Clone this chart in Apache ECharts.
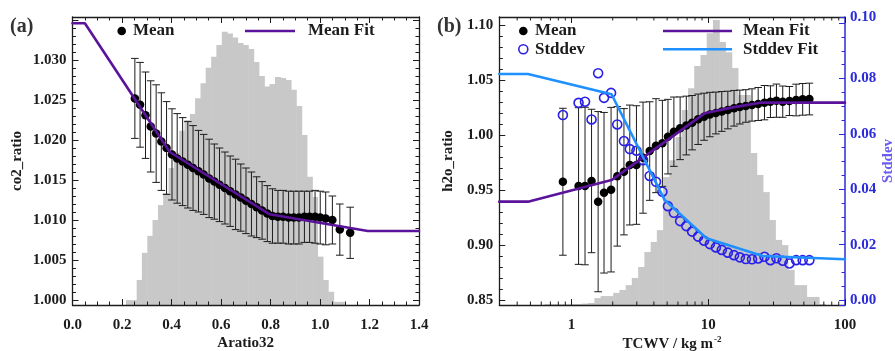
<!DOCTYPE html>
<html>
<head>
<meta charset="utf-8">
<script src="https://cdn.jsdelivr.net/npm/echarts@6/dist/echarts.min.js"></script>
<style>
  html, body { margin: 0; padding: 0; background: #fff; }
  #chart { width: 895px; height: 351px; }
</style>
</head>
<body>
<div id="chart"></div>
<script>
// ---------- panel (a): co2_ratio against Aratio32 ----------
const co2X = [0.252,0.273,0.295,0.316,0.338,0.359,0.380,0.402,0.423,0.445,0.466,0.487,0.509,0.530,0.552,0.573,0.594,0.616,0.637,0.659,0.680,0.701,0.723,0.744,0.766,0.787,0.808,0.830,0.851,0.873,0.894,0.915,0.937,0.958,0.980,1.001,1.023,1.050,1.080,1.122];
const co2Mean = [1.0252,1.0244,1.0231,1.0217,1.0208,1.0198,1.0190,1.0182,1.0177,1.0173,1.0169,1.0165,1.0161,1.0157,1.0152,1.0148,1.0144,1.0140,1.0136,1.0132,1.0128,1.0124,1.0120,1.0116,1.0112,1.0108,1.0105,1.0104,1.0104,1.0103,1.0103,1.0103,1.0104,1.0104,1.0104,1.0103,1.0102,1.0100,1.0088,1.0084];
const co2Std = [0.0050,0.0053,0.0054,0.0057,0.0061,0.0061,0.0058,0.0057,0.0056,0.0055,0.0054,0.0053,0.0051,0.0050,0.0049,0.0047,0.0046,0.0045,0.0044,0.0044,0.0042,0.0041,0.0040,0.0038,0.0036,0.0035,0.0034,0.0033,0.0033,0.0033,0.0033,0.0033,0.0032,0.0032,0.0033,0.0033,0.0033,0.0030,0.0032,0.0032];
const co2FitX = [0.0, 0.05, 0.393, 0.797, 1.193, 1.4];
const co2FitY = [1.0346, 1.0346, 1.0185, 1.01071, 1.00863, 1.00863];
// Aratio32 frequency histogram (bin centres, relative height in %)
const aratioBins = [0.227,0.248,0.270,0.291,0.313,0.334,0.356,0.377,0.399,0.420,0.442,0.463,0.485,0.506,0.528,0.549,0.571,0.592,0.614,0.635,0.656,0.678,0.699,0.721,0.742,0.764,0.785,0.807,0.829,0.850,0.872,0.893,0.915,0.936,0.958,0.979,1.001,1.022,1.044,1.065,1.087];
const aratioHist = [1.7,1.7,8.7,18.1,24.0,29.5,34.7,38.9,47.6,52.8,60.5,64.2,66.3,71.8,77.0,82.4,86.2,90.3,94.9,94.3,92.9,91.0,90.3,88.9,84.4,79.5,75.9,76.7,79.2,78.8,78.1,74.7,69.1,59.0,44.5,37.5,16.8,8.7,4.6,1.1,1.1];
const aratioBinWidth = 0.0215;
const aratioTicks = [0.0, 0.2, 0.4, 0.6, 0.8, 1.0, 1.2, 1.4];

// ---------- panel (b): h2o_ratio against TCWV ----------
const tcwv = [0.864,1.125,1.254,1.400,1.564,1.727,1.945,2.159,2.416,2.665,2.982,3.332,3.728,4.145,4.616,5.070,5.601,6.224,6.906,7.614,8.425,9.313,10.27,11.36,12.55,13.90,15.43,17.01,18.82,20.88,23.17,25.76,28.49,31.51,35.04,39.21,43.88,49.03,54.89];
const h2oMean = [0.9575,0.9536,0.9536,0.9582,0.9394,0.9475,0.9503,0.9624,0.9666,0.9727,0.9727,0.9794,0.9854,0.9903,0.9924,0.9985,1.0030,1.0061,1.0086,1.0112,1.0143,1.0166,1.0186,1.0200,1.0214,1.0227,1.0243,1.0254,1.0264,1.0273,1.0282,1.0294,1.0303,1.0312,1.0303,1.0309,1.0318,1.0324,1.0327];
const h2oStd = [0.0668,0.0712,0.0716,0.0652,0.0819,0.0730,0.0748,0.0634,0.0574,0.0545,0.0539,0.0505,0.0448,0.0427,0.0391,0.0339,0.0315,0.0285,0.0267,0.0247,0.0229,0.0214,0.0202,0.0190,0.0181,0.0171,0.0162,0.0154,0.0148,0.0147,0.0150,0.0156,0.0144,0.0151,0.0142,0.0132,0.0144,0.0144,0.0144];
const h2oFitX = [0.296, 0.48, 1.96, 9.4, 15.1, 24, 100];
const h2oFitY = [0.9394, 0.9394, 0.959, 1.0197, 1.0251, 1.0294, 1.0294];
const stdFitX = [0.296, 0.48, 1.96, 4.8, 9.7, 25, 100];
const stdFitY = [0.0816, 0.0816, 0.0743, 0.0361, 0.0223, 0.0159, 0.0147];
// TCWV frequency histogram (log-spaced bin centres, relative height in %)
const tcwvBins = [0.668,0.743,0.824,0.916,1.017,1.131,1.254,1.395,1.548,1.720,1.910,2.125,2.357,2.621,2.907,3.233,3.591,3.993,4.428,4.925,5.463,6.074,6.738,7.493,8.315,9.246,10.26,11.40,12.65,14.07,15.61,17.36,19.26,21.42,23.77,26.43,29.32,32.60,36.17,40.22,44.62,49.61,55.04,61.20,67.90];
const tcwvHist = [0.3,0.3,0.3,0.3,0.3,0.3,0.5,0.7,2.4,3.1,3.1,4.2,5.2,6.9,9.4,13.2,18.4,21.9,26.0,44.4,50.3,58.3,67.7,75.3,83.0,86.8,94.4,99.0,91.3,87.8,82.3,72.9,72.9,52.8,45.1,39.2,29.5,22.6,20.8,12.2,6.9,6.9,2.8,2.8,0.3];
const tcwvBinLog = 0.0456;
const tcwvMinorTicks = [0.4,0.5,0.6,0.7,0.8,0.9,2,3,4,5,6,7,8,9,20,30,40,50,60,70,80,90];

// ---------- styling ----------
const serif = '"Liberation Serif", "Times New Roman", serif';
const ink = '#1c1c1c';
const purple = '#5a139a';
const skyBlue = '#1e90ff';
const ringBlue = '#2a1fe8';
const axisBlue = '#2b2bdc';
const histGrey = '#c8c8c8';
const labelFont = { fontFamily: serif, fontWeight: 'bold', fontSize: 15, color: ink };

function histRect(isLog, width) {
  return function (params, api) {
    const c = api.value(0), h = api.value(1);
    const lo = isLog ? c / Math.pow(10, width / 2) : c - width / 2;
    const hi = isLog ? c * Math.pow(10, width / 2) : c + width / 2;
    const tl = api.coord([lo, h]);
    const br = api.coord([hi, 0]);
    return {
      type: 'rect',
      shape: { x: tl[0], y: tl[1], width: br[0] - tl[0] + 0.6, height: br[1] - tl[1] },
      style: { fill: histGrey }
    };
  };
}

function errorBar(params, api) {
  const x = api.value(0);
  const top = api.coord([x, api.value(2)]);
  const bot = api.coord([x, api.value(1)]);
  const cap = 3.8;
  const st = { stroke: ink, lineWidth: 1 };
  return {
    type: 'group',
    children: [
      { type: 'line', shape: { x1: top[0], y1: top[1], x2: bot[0], y2: bot[1] }, style: st },
      { type: 'line', shape: { x1: top[0] - cap, y1: top[1], x2: top[0] + cap, y2: top[1] }, style: st },
      { type: 'line', shape: { x1: bot[0] - cap, y1: bot[1], x2: bot[0] + cap, y2: bot[1] }, style: st }
    ]
  };
}

function logMinorTick(params, api) {
  const p = api.coord([api.value(0), api.value(1)]);
  const cs = params.coordSys;
  const yb = cs.y + cs.height, yt = cs.y;
  const st = { stroke: ink, lineWidth: 1 };
  return {
    type: 'group',
    children: [
      { type: 'line', shape: { x1: p[0], y1: yb, x2: p[0], y2: yb - 3.5 }, style: st },
      { type: 'line', shape: { x1: p[0], y1: yt, x2: p[0], y2: yt + 3.5 }, style: st }
    ]
  };
}

function frameAxis(extra) {
  return Object.assign({
    axisLine: { show: true, onZero: false, lineStyle: { color: ink, width: 1.3 } },
    axisTick: { show: true, inside: true, length: 6, lineStyle: { color: ink, width: 1 } },
    minorTick: { show: true, length: 3.5, lineStyle: { color: ink, width: 1 } },
    splitLine: { show: false },
    minorSplitLine: { show: false },
    z: 3
  }, extra);
}

const isDecade = v => Math.abs(Math.log10(v) - Math.round(Math.log10(v))) < 1e-6;

const option = {
  animation: false,
  backgroundColor: '#ffffff',
  grid: [
    { left: 72.5, top: 17, width: 346.5, height: 288, containLabel: false, outerBoundsMode: 'none' },
    { left: 499.3, top: 17, width: 345.7, height: 288, containLabel: false, outerBoundsMode: 'none' }
  ],
  xAxis: [
    frameAxis({ gridIndex: 0, type: 'value', position: 'bottom', min: aratioTicks[0], max: aratioTicks[aratioTicks.length - 1], interval: 0.2,
      minorTick: { show: true, splitNumber: 4, length: 3.5, lineStyle: { color: ink } },
      axisLabel: Object.assign({ margin: 13, formatter: v => v.toFixed(1) }, labelFont) }),
    frameAxis({ gridIndex: 0, type: 'value', position: 'top', min: aratioTicks[0], max: aratioTicks[aratioTicks.length - 1], interval: 0.2,
      minorTick: { show: true, splitNumber: 4, length: 3.5, lineStyle: { color: ink } },
      axisLabel: { show: false } }),
    frameAxis({ gridIndex: 1, type: 'log', logBase: 10, position: 'bottom', min: 0.296, max: 100,
      minorTick: { show: false },
      axisLabel: Object.assign({ margin: 13, showMinLabel: true, showMaxLabel: true,
        formatter: v => isDecade(v) ? String(Math.round(v)) : '' }, labelFont) }),
    frameAxis({ gridIndex: 1, type: 'log', logBase: 10, position: 'top', min: 0.296, max: 100,
      minorTick: { show: false }, axisLabel: { show: false } })
  ],
  yAxis: [
    frameAxis({ gridIndex: 0, type: 'value', position: 'left', min: 0.999375, max: 1.035375,
      splitNumber: 7, minInterval: 0.005, maxInterval: 0.005,
      minorTick: { show: true, splitNumber: 5, length: 3.5, lineStyle: { color: ink } },
      axisLabel: Object.assign({ margin: 6, showMinLabel: true, showMaxLabel: true,
        formatter: v => (v < 0.9999 || v > 1.0301) ? '' : v.toFixed(3) }, labelFont) }),
    frameAxis({ gridIndex: 0, type: 'value', position: 'right', min: 0.999375, max: 1.035375,
      splitNumber: 7, minInterval: 0.005, maxInterval: 0.005,
      minorTick: { show: true, splitNumber: 5, length: 3.5, lineStyle: { color: ink } },
      axisLabel: { show: false } }),
    { gridIndex: 0, type: 'value', min: 0, max: 100, show: false },
    frameAxis({ gridIndex: 1, type: 'value', position: 'left', min: 0.84545, max: 1.10727,
      splitNumber: 5, minInterval: 0.05, maxInterval: 0.05,
      minorTick: { show: true, splitNumber: 5, length: 3.5, lineStyle: { color: ink } },
      axisLabel: Object.assign({ margin: 6, showMinLabel: true, showMaxLabel: true,
        formatter: v => (v < 0.849 || v > 1.101) ? '' : v.toFixed(2) }, labelFont) }),
    frameAxis({ gridIndex: 1, type: 'value', position: 'right', min: -0.0018, max: 0.1022,
      splitNumber: 5, minInterval: 0.02, maxInterval: 0.02,
      axisLine: { show: true, onZero: false, lineStyle: { color: axisBlue, width: 1.5 } },
      axisTick: { show: true, inside: true, length: 6, lineStyle: { color: axisBlue, width: 1 } },
      minorTick: { show: true, splitNumber: 4, length: 3.5, lineStyle: { color: axisBlue } },
      axisLabel: Object.assign({}, labelFont, { color: axisBlue, margin: 5, showMinLabel: true, showMaxLabel: true,
        formatter: v => (v < -0.001) ? '' : v.toFixed(2) }) }),
    { gridIndex: 1, type: 'value', min: 0, max: 100, show: false }
  ],
  series: [
    { type: 'custom', name: 'Aratio32 histogram', xAxisIndex: 0, yAxisIndex: 2, z: 1, silent: true,
      renderItem: histRect(false, aratioBinWidth),
      data: aratioBins.map((b, i) => [b, aratioHist[i]]) },
    { type: 'custom', name: 'TCWV histogram', xAxisIndex: 2, yAxisIndex: 5, z: 1, silent: true,
      renderItem: histRect(true, tcwvBinLog),
      data: tcwvBins.map((b, i) => [b, tcwvHist[i]]) },
    { type: 'custom', name: 'TCWV minor ticks', xAxisIndex: 2, yAxisIndex: 3, z: 4, silent: true,
      renderItem: logMinorTick,
      data: tcwvMinorTicks.map(v => [v, 1.0]) },
    { type: 'custom', name: 'co2 spread', xAxisIndex: 0, yAxisIndex: 0, z: 4, silent: true, clip: false,
      renderItem: errorBar,
      data: co2X.map((x, i) => [x, co2Mean[i] - co2Std[i], co2Mean[i] + co2Std[i]]) },
    { type: 'custom', name: 'h2o spread', xAxisIndex: 2, yAxisIndex: 3, z: 4, silent: true, clip: false,
      renderItem: errorBar,
      data: tcwv.map((x, i) => [x, h2oMean[i] - h2oStd[i], h2oMean[i] + h2oStd[i]]) },
    { type: 'scatter', name: 'Mean', xAxisIndex: 0, yAxisIndex: 0, z: 5, symbol: 'circle', symbolSize: 8.5,
      itemStyle: { color: '#000', opacity: 1 },
      data: co2X.map((x, i) => [x, co2Mean[i]]) },
    { type: 'scatter', name: 'Mean', xAxisIndex: 2, yAxisIndex: 3, z: 5, symbol: 'circle', symbolSize: 8.5,
      itemStyle: { color: '#000', opacity: 1 },
      data: tcwv.map((x, i) => [x, h2oMean[i]]) },
    { type: 'scatter', name: 'Stddev', xAxisIndex: 2, yAxisIndex: 4, z: 5, symbol: 'circle', symbolSize: 9,
      itemStyle: { color: 'rgba(0,0,0,0)', borderColor: ringBlue, borderWidth: 1.6, opacity: 1 },
      data: tcwv.map((x, i) => [x, h2oStd[i]]) },
    { type: 'line', name: 'Mean Fit', xAxisIndex: 0, yAxisIndex: 0, z: 6, showSymbol: false, symbol: 'none',
      lineStyle: { color: purple, width: 2.6, join: 'round', cap: 'round' },
      data: co2FitX.map((x, i) => [x, co2FitY[i]]) },
    { type: 'line', name: 'Mean Fit', xAxisIndex: 2, yAxisIndex: 3, z: 6, showSymbol: false, symbol: 'none',
      lineStyle: { color: purple, width: 2.6, join: 'round', cap: 'round' },
      data: h2oFitX.map((x, i) => [x, h2oFitY[i]]) },
    { type: 'line', name: 'Stddev Fit', xAxisIndex: 2, yAxisIndex: 4, z: 6, showSymbol: false, symbol: 'none',
      lineStyle: { color: skyBlue, width: 2.6, join: 'round', cap: 'round' },
      data: stdFitX.map((x, i) => [x, stdFitY[i]]) }
  ],
  graphic: {
    elements: [
      // panel tags
      { type: 'text', x: 10, y: 27, z: 20, style: { text: '(a)', font: 'bold 20px ' + serif, fill: '#333', align: 'left', verticalAlign: 'middle', textAlign: 'left', textVerticalAlign: 'middle' } },
      { type: 'text', x: 437, y: 27, z: 20, style: { text: '(b)', font: 'bold 20px ' + serif, fill: '#333', align: 'left', verticalAlign: 'middle', textAlign: 'left', textVerticalAlign: 'middle' } },
      // axis titles
      { type: 'text', x: 245.7, y: 343, z: 20, style: { text: 'Aratio32', font: 'bold 15px ' + serif, fill: ink, align: 'center', verticalAlign: 'middle', textAlign: 'center', textVerticalAlign: 'middle' } },
      { type: 'text', x: 17, y: 161, rotation: Math.PI / 2, z: 20, style: { text: 'co2_ratio', font: 'bold 15px ' + serif, fill: ink, align: 'center', verticalAlign: 'middle', textAlign: 'center', textVerticalAlign: 'middle' } },
      { type: 'text', x: 448, y: 161, rotation: Math.PI / 2, z: 20, style: { text: 'h2o_ratio', font: 'bold 15px ' + serif, fill: ink, align: 'center', verticalAlign: 'middle', textAlign: 'center', textVerticalAlign: 'middle' } },
      { type: 'text', x: 888, y: 161, rotation: Math.PI / 2, z: 20, style: { text: 'Stddev', font: 'bold 15px ' + serif, fill: '#6a5cf0', align: 'center', verticalAlign: 'middle', textAlign: 'center', textVerticalAlign: 'middle' } },
      { type: 'text', x: 672, y: 344, z: 20, style: {
          text: '{m|TCWV / kg m}{s|-2}', align: 'center', verticalAlign: 'middle', textAlign: 'center', textVerticalAlign: 'middle',
          rich: { m: { font: 'bold 15px ' + serif, fill: ink, color: ink, lineHeight: 18 },
                  s: { font: 'bold 9px ' + serif, fill: ink, color: ink, verticalAlign: 'top', lineHeight: 18, padding: [0, 0, 10, 1] } } } },
      // legend, panel (a)
      { type: 'circle', z: 20, shape: { cx: 121.7, cy: 31, r: 4.3 }, style: { fill: '#000' } },
      { type: 'text', x: 133, y: 31, z: 20, style: { text: 'Mean', font: 'bold 17px ' + serif, fill: ink, align: 'left', verticalAlign: 'middle', textAlign: 'left', textVerticalAlign: 'middle' } },
      { type: 'line', z: 20, shape: { x1: 245, y1: 31, x2: 295, y2: 31 }, style: { stroke: purple, lineWidth: 2.6 } },
      { type: 'text', x: 308, y: 31, z: 20, style: { text: 'Mean Fit', font: 'bold 17px ' + serif, fill: ink, align: 'left', verticalAlign: 'middle', textAlign: 'left', textVerticalAlign: 'middle' } },
      // legend, panel (b)
      { type: 'circle', z: 20, shape: { cx: 523.3, cy: 31, r: 4.3 }, style: { fill: '#000' } },
      { type: 'text', x: 535, y: 31, z: 20, style: { text: 'Mean', font: 'bold 17px ' + serif, fill: ink, align: 'left', verticalAlign: 'middle', textAlign: 'left', textVerticalAlign: 'middle' } },
      { type: 'circle', z: 20, shape: { cx: 523.3, cy: 49.3, r: 4.5 }, style: { fill: 'rgba(0,0,0,0)', stroke: ringBlue, lineWidth: 1.6 } },
      { type: 'text', x: 535, y: 49.3, z: 20, style: { text: 'Stddev', font: 'bold 17px ' + serif, fill: ink, align: 'left', verticalAlign: 'middle', textAlign: 'left', textVerticalAlign: 'middle' } },
      { type: 'line', z: 20, shape: { x1: 663, y1: 31, x2: 732, y2: 31 }, style: { stroke: purple, lineWidth: 2.6 } },
      { type: 'text', x: 743, y: 31, z: 20, style: { text: 'Mean Fit', font: 'bold 17px ' + serif, fill: ink, align: 'left', verticalAlign: 'middle', textAlign: 'left', textVerticalAlign: 'middle' } },
      { type: 'line', z: 20, shape: { x1: 663, y1: 49.3, x2: 732, y2: 49.3 }, style: { stroke: skyBlue, lineWidth: 2.6 } },
      { type: 'text', x: 743, y: 49.3, z: 20, style: { text: 'Stddev Fit', font: 'bold 17px ' + serif, fill: ink, align: 'left', verticalAlign: 'middle', textAlign: 'left', textVerticalAlign: 'middle' } }
    ]
  }
};

const chart = echarts.init(document.getElementById('chart'), null, { renderer: 'canvas' });
chart.setOption(option);
</script>
</body>
</html>
